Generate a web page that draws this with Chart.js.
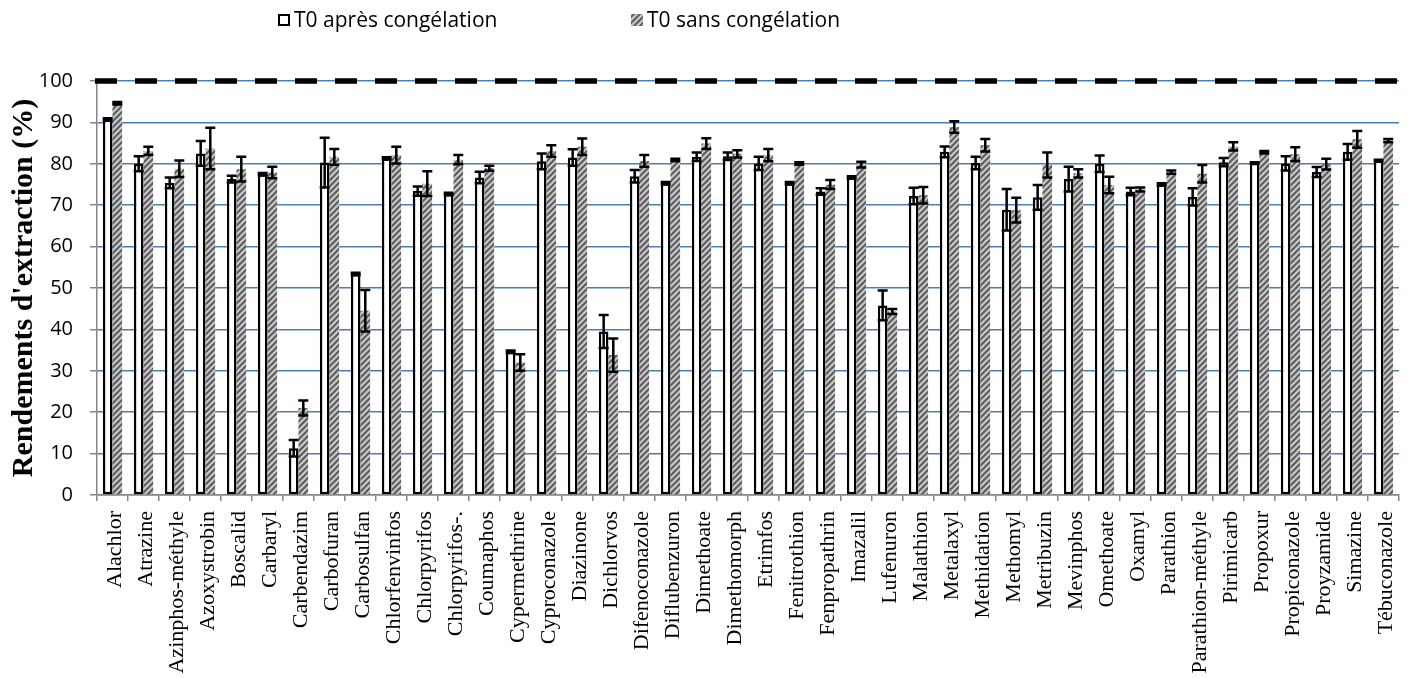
<!DOCTYPE html>
<html>
<head>
<meta charset="utf-8">
<script src="https://cdn.jsdelivr.net/npm/chart.js@4/dist/chart.umd.min.js"></script>
<style>
  body { margin: 0; background: #fff; }
  canvas { display: block; }
</style>
</head>
<body>
<canvas id="chart" width="1420" height="679"></canvas>
<script>
const categories = ["Alachlor", "Atrazine", "Azinphos-méthyle", "Azoxystrobin", "Boscalid", "Carbaryl",
  "Carbendazim", "Carbofuran", "Carbosulfan", "Chlorfenvinfos", "Chlorpyrifos", "Chlorpyrifos-.",
  "Coumaphos", "Cypermethrine", "Cyproconazole", "Diazinone", "Dichlorvos", "Difenoconazole",
  "Diflubenzuron", "Dimethoate", "Dimethomorph", "Etrimfos", "Fenitrothion", "Fenpropathrin",
  "Imazalil", "Lufenuron", "Malathion", "Metalaxyl", "Methidation", "Methomyl", "Metribuzin",
  "Mevinphos", "Omethoate", "Oxamyl", "Parathion", "Parathion-méthyle", "Pirimicarb", "Propoxur",
  "Propiconazole", "Proyzamide", "Simazine", "Tébuconazole"];

const apres = [90.7, 80.0, 75.4, 82.5, 76.3, 77.5, 11.3, 80.3, 53.4, 81.3, 73.4, 72.7, 76.7, 34.6,
  80.6, 81.5, 39.5, 77.0, 75.3, 81.7, 81.8, 80.1, 75.3, 73.3, 76.7, 45.8, 72.2, 82.9, 80.2, 68.9,
  71.9, 76.3, 80.0, 73.3, 75.0, 72.0, 80.4, 80.2, 80.1, 78.0, 82.9, 80.8];
const apresErr = [0.3, 1.8, 1.3, 3.0, 0.8, 0.3, 2.0, 6.0, 0.3, 0.3, 1.1, 0.3, 1.4, 0.3, 1.9, 2.0,
  4.0, 1.5, 0.3, 1.0, 0.9, 1.6, 0.3, 0.8, 0.3, 3.6, 2.0, 1.3, 1.5, 5.0, 3.0, 3.0, 2.0, 0.9, 0.3,
  2.1, 1.0, 0.2, 1.7, 1.2, 1.9, 0.2];

const sans = [94.6, 83.1, 78.8, 83.7, 78.7, 77.9, 21.0, 81.7, 44.5, 82.1, 75.2, 81.0, 78.9, 32.0,
  83.1, 84.1, 33.8, 80.7, 80.9, 84.9, 82.4, 82.1, 80.1, 75.0, 79.8, 44.3, 72.4, 88.9, 84.5, 68.8,
  79.7, 77.7, 74.9, 73.8, 78.0, 77.6, 84.2, 82.8, 82.3, 79.9, 85.9, 85.6];
const sansErr = [0.3, 1.0, 2.0, 5.0, 3.0, 1.4, 1.8, 1.9, 5.0, 2.0, 3.0, 1.1, 0.6, 2.0, 1.4, 2.0,
  4.0, 1.4, 0.3, 1.3, 0.9, 1.5, 0.3, 1.1, 0.7, 0.6, 2.0, 1.4, 1.5, 3.0, 3.0, 1.0, 2.0, 0.5, 0.4,
  2.1, 1.0, 0.3, 1.7, 1.3, 2.0, 0.4];

const seriesNames = ["T0 après congélation", "T0 sans congélation"];
const refValue = 100;
const yTicks = { min: 0, max: 100, step: 10 };

function hatch() {
  const c = document.createElement("canvas");
  c.width = 6; c.height = 6;
  const g = c.getContext("2d");
  g.fillStyle = "#c8c8c8";
  g.fillRect(0, 0, 6, 6);
  g.strokeStyle = "#5c5c5c";
  g.lineWidth = 2;
  g.beginPath();
  g.moveTo(-1, 7); g.lineTo(7, -1);
  g.moveTo(-1, 1); g.lineTo(1, -1);
  g.moveTo(5, 7); g.lineTo(7, 5);
  g.stroke();
  return g.createPattern(c, "repeat");
}
const hatchFill = hatch();

const errorBars = {
  id: "errorBars",
  afterDatasetsDraw(chart) {
    const ctx = chart.ctx, y = chart.scales.y, area = chart.chartArea;
    ctx.save();
    // reference line at 100 %
    const yr = y.getPixelForValue(refValue);
    ctx.strokeStyle = "#000";
    ctx.lineWidth = 5.5;
    ctx.setLineDash([22, 18]);
    ctx.beginPath();
    ctx.moveTo(area.left - 2, yr);
    ctx.lineTo(area.right, yr);
    ctx.stroke();
    ctx.setLineDash([]);

    ctx.lineWidth = 2.5;
    chart.data.datasets.forEach((ds, i) => {
      chart.getDatasetMeta(i).data.forEach((bar, j) => {
        const hi = y.getPixelForValue(ds.data[j] + ds.err[j]);
        const lo = y.getPixelForValue(ds.data[j] - ds.err[j]);
        ctx.beginPath();
        ctx.moveTo(bar.x, hi); ctx.lineTo(bar.x, lo);
        ctx.moveTo(bar.x - 5, hi); ctx.lineTo(bar.x + 5, hi);
        ctx.moveTo(bar.x - 5, lo); ctx.lineTo(bar.x + 5, lo);
        ctx.stroke();
      });
    });
    ctx.restore();
  }
};

const topLegend = {
  id: "topLegend",
  afterDraw(chart) {
    const ctx = chart.ctx;
    const items = [
      { x: 278, fill: "#fff", border: true, text: seriesNames[0] },
      { x: 631, fill: hatchFill, border: false, text: seriesNames[1] }
    ];
    ctx.save();
    ctx.font = "21px 'Open Sans'";
    ctx.textBaseline = "middle";
    items.forEach(it => {
      ctx.fillStyle = it.fill;
      ctx.fillRect(it.x, 14, 12, 12);
      if (it.border) {
        ctx.strokeStyle = "#000";
        ctx.lineWidth = 2;
        ctx.strokeRect(it.x + 1, 15, 10, 10);
      }
      ctx.fillStyle = "#000";
      ctx.fillText(it.text, it.x + 16, 21);
    });
    ctx.restore();
  }
};

new Chart(document.getElementById("chart"), {
  type: "bar",
  data: {
    labels: categories,
    datasets: [
      { label: seriesNames[0], data: apres, err: apresErr, backgroundColor: "#fff",
        borderColor: "#000", borderWidth: 2.5, borderSkipped: false },
      { label: seriesNames[1], data: sans, err: sansErr, backgroundColor: hatchFill, borderWidth: 0 }
    ]
  },
  options: {
    responsive: false,
    animation: false,
    devicePixelRatio: 1,
    categoryPercentage: 0.62,
    barPercentage: 1.0,
    layout: { padding: { top: 81, right: 13, left: 0, bottom: 0 } },
    plugins: { legend: { display: false }, tooltip: { enabled: false } },
    scales: {
      x: {
        ticks: { font: { family: "'Liberation Serif'", size: 22 }, color: "#000",
          minRotation: 90, maxRotation: 90, autoSkip: false, padding: 10, labelOffset: 3 },
        grid: { drawOnChartArea: false, color: "#868686", tickLength: 6, lineWidth: 1.5 },
        border: { color: "#868686", width: 1.5 },
        afterFit: s => { s.height = 184; }
      },
      y: {
        min: yTicks.min, max: yTicks.max,
        ticks: { stepSize: yTicks.step, font: { family: "'Open Sans'", size: 20 }, color: "#000", padding: 17 },
        grid: { color: c => c.tick && c.tick.value === 0 ? "#868686" : "#4a7ebb",
          lineWidth: 1.5, tickLength: 7, tickColor: "#868686" },
        border: { color: "#868686", width: 1.5 },
        title: { display: true, text: "Rendements d'extraction (%)", color: "#000",
          font: { family: "'Liberation Serif'", size: 30, weight: "bold" }, padding: { top: 6, bottom: 0 } },
        afterFit: s => { s.width = 97; }
      }
    }
  },
  plugins: [errorBars, topLegend]
});
</script>
</body>
</html>
